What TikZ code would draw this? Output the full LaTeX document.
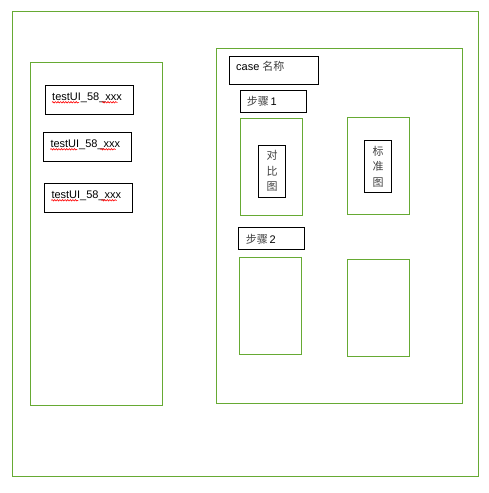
\documentclass[tikz,border=0pt]{standalone}
\usepackage{fontspec}
\setmainfont{Liberation Sans}
\newfontfamily\cjk{Noto Sans CJK SC}
\usetikzlibrary{decorations.pathmorphing,calc}
\definecolor{grn}{RGB}{102,170,51}
\begin{document}
\begin{tikzpicture}[x=1pt,y=-1pt,
 greenbox/.style={draw=grn, line width=1pt, inner sep=0pt, outer sep=0pt, anchor=north west},
 blackbox/.style={draw=black, line width=1.3pt, inner sep=0pt, outer sep=0pt, anchor=north west},
 lbl/.style={inner sep=0pt, anchor=base west, font=\fontsize{11}{13}\selectfont},
 vtext/.style={align=center, font=\cjk\fontsize{11}{15.5}\selectfont, text=black!75},
 spell/.style={draw=red, line width=0.6pt, decorate, decoration={snake, amplitude=0.7pt, segment length=2.6pt}}]
\useasboundingbox (0,0) rectangle (488,493);
% outer frame
\node[greenbox, minimum width=466, minimum height=465] (outer) at (12.5,11.5) {};
% left panel
\node[greenbox, minimum width=132, minimum height=343] (left) at (30.5,62) {};
\node[blackbox, minimum width=88.4, minimum height=29] (b1) at (45.3,85.3) {};
\node[blackbox, minimum width=88.4, minimum height=29] (b2) at (43.3,132.3) {};
\node[blackbox, minimum width=88.4, minimum height=29] (b3) at (44.3,183.3) {};
\node[lbl] (t1) at (52,100.5) {testUI\_58\_xxx};
\node[lbl] (t2) at (50.3,147.5) {testUI\_58\_xxx};
\node[lbl] (t3) at (51.3,198.5) {testUI\_58\_xxx};
\foreach \t in {t1,t2,t3}{
  \draw[spell] ($(\t.base west)+(0,1.8)$) -- ++(27,0);
  \draw[spell] ($(\t.base west)+(50,1.8)$) -- ++(15.6,0);
}
% right panel
\node[greenbox, minimum width=246.3, minimum height=355] (right) at (216.3,48.3) {};
\node[blackbox, minimum width=89.4, minimum height=28] (case) at (229.3,56.3) {};
\node[lbl] (caset) at (236,70.5) {case {\cjk\color{black!75}名称}};
\node[blackbox, minimum width=66.4, minimum height=21.6] (s1) at (240.3,90.7) {};
\node[lbl] (s1t) at (246.7,105.5) {{\cjk\color{black!75}步骤}\,1};
\node[greenbox, minimum width=62, minimum height=96.6] (g1) at (240.3,118.7) {};
\node[blackbox, vtext, minimum width=27.4, minimum height=52] (cmp) at (258.3,145.3) {对\\比\\图};
\node[greenbox, minimum width=62.4, minimum height=96.6] (g2) at (347.3,117.7) {};
\node[blackbox, vtext, minimum width=27.4, minimum height=52.4] (std) at (364.3,140.3) {标\\准\\图};
\node[blackbox, minimum width=66.4, minimum height=22] (s2) at (238.3,227.3) {};
\node[lbl] (s2t) at (245.7,243) {{\cjk\color{black!75}步骤}\,2};
\node[greenbox, minimum width=62.4, minimum height=97.4] (g3) at (239.3,257.3) {};
\node[greenbox, minimum width=62.4, minimum height=97] (g4) at (347.3,259.3) {};
\end{tikzpicture}
\end{document}
